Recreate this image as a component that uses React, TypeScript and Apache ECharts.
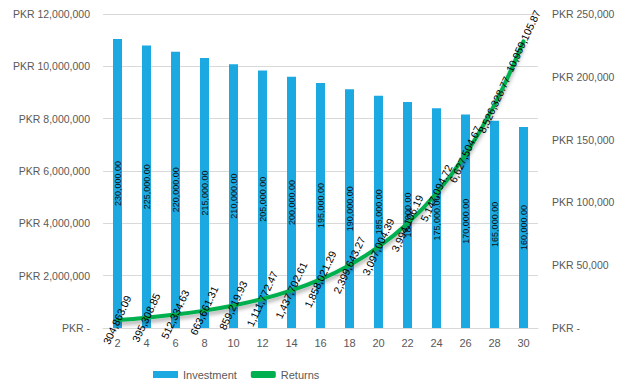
import React, { useEffect, useRef } from "react";
import * as echarts from "echarts";

const years = ["2", "4", "6", "8", "10", "12", "14", "16", "18", "20", "22", "24", "26", "28", "30"];
const investment = [230000, 225000, 220000, 215000, 210000, 205000, 200000, 195000, 190000, 185000, 180000, 175000, 170000, 165000, 160000];
const returns = [
  304863.09, 395308.85, 512334.63, 663661.31, 859219.93, 1111772.47, 1437702.61, 1858021.29,
  2399643.27, 3097004.39, 3994106.19, 5147094.72, 6627504.67, 8526328.77, 10959105.87,
];

const fmt2 = (v: number) =>
  v.toLocaleString("en-US", { minimumFractionDigits: 2, maximumFractionDigits: 2 });
const pkr = (v: number) => (v === 0 ? "PKR -" : "PKR " + v.toLocaleString("en-US"));

const FONT = "Liberation Sans";

export default function App() {
  const ref = useRef<HTMLDivElement>(null);
  useEffect(() => {
    if (!ref.current) return;
    const chart = echarts.init(ref.current, undefined, { renderer: "svg" });
    chart.setOption({
      animation: false,
      textStyle: { fontFamily: FONT },
      grid: { left: 103, right: 83, top: 14, bottom: 62 },
      legend: {
        top: 364,
        left: 148,
        itemGap: 14,
        itemWidth: 25,
        itemHeight: 7,
        textStyle: { color: "#595959", fontSize: 11, fontFamily: FONT },
        data: [
          { name: "Investment", icon: "rect" },
          { name: "Returns", icon: "roundRect", itemStyle: { color: "#00B050", opacity: 1 } },
        ],
      },
      xAxis: {
        type: "category",
        data: years,
        axisLine: { lineStyle: { color: "#d9d9d9" } },
        axisTick: { show: false },
        axisLabel: { color: "#595959", fontSize: 11, margin: 9 },
      },
      yAxis: [
        {
          type: "value",
          min: 0,
          max: 12000000,
          interval: 2000000,
          axisLabel: { color: "#595959", fontSize: 10.5, formatter: pkr, margin: 13 },
          splitLine: { lineStyle: { color: "#d9d9d9" } },
          axisLine: { show: false },
          axisTick: { show: false },
        },
        {
          type: "value",
          min: 0,
          max: 250000,
          interval: 50000,
          position: "right",
          axisLabel: { color: "#595959", fontSize: 10.5, formatter: pkr, margin: 14 },
          splitLine: { show: false },
          axisLine: { show: false },
          axisTick: { show: false },
        },
      ],
      series: [
        {
          name: "Investment",
          type: "bar",
          yAxisIndex: 1,
          data: investment,
          barWidth: 9,
          itemStyle: { color: "#1CA9E1" },
          label: {
            show: true,
            position: "inside",
            rotate: 90,
            fontSize: 9,
            color: "#111",
            formatter: (p: any) => fmt2(p.value),
          },
        },
        {
          name: "Returns",
          type: "line",
          yAxisIndex: 0,
          data: returns,
          smooth: 0.4,
          symbol: "circle",
          symbolSize: 2,
          showSymbol: true,
          lineStyle: {
            color: "#00B050",
            width: 4,
            cap: "round",
            shadowColor: "rgba(0,0,0,0.35)",
            shadowBlur: 4,
            shadowOffsetY: 3,
          },
          itemStyle: { color: "#00B050", opacity: 0 },
          label: {
            show: true,
            position: "inside",
            rotate: 65,
            fontSize: 10.5,
            color: "#000",
            opacity: 1,
            formatter: (p: any) => fmt2(p.value),
          },
          z: 3,
        },
      ],
    });
    return () => chart.dispose();
  }, []);
  return (
    <div
      ref={ref}
      style={{ position: "absolute", left: 0, top: 0, width: 621, height: 390 }}
    />
  );
}
